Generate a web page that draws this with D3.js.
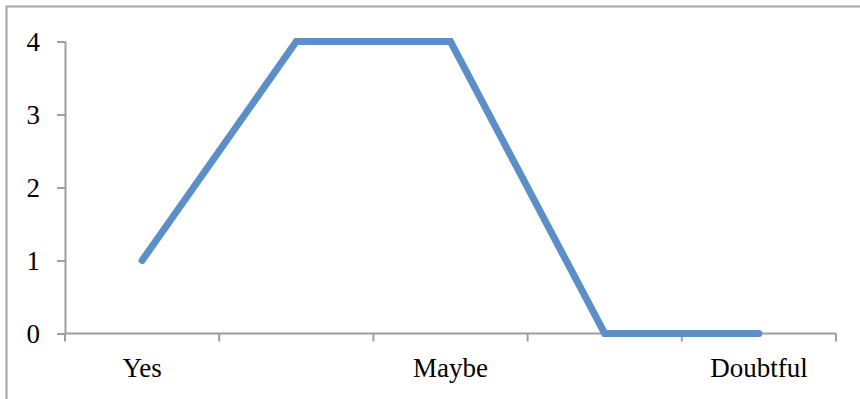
<!DOCTYPE html>
<html>
<head>
<meta charset="utf-8">
<script src="https://cdn.jsdelivr.net/npm/d3@7"></script>
<style>
  html, body { margin: 0; padding: 0; background: #fff; }
  svg { display: block; }
  .lbl { font-family: "Liberation Serif", "DejaVu Serif", serif; font-size: 27px; fill: #000; }
</style>
</head>
<body>
<svg id="chart" width="860" height="399"></svg>
<script>
// Responses per answer option
const categories = ["Yes", "No", "Maybe", "Unsure", "Doubtful"];
const values = [1, 4, 4, 0, 0];
// Only every other category name fits under the axis
const shownLabels = ["Yes", "Maybe", "Doubtful"];
const yTicks = [0, 1, 2, 3, 4];

const svg = d3.select("#chart");
const W = 860, H = 399;
const margin = { left: 65, right: 24, top: 41.5, bottom: 65.5 };

// chart frame
svg.append("rect")
  .attr("x", 6.5).attr("y", 6.5)
  .attr("width", W).attr("height", H)
  .attr("fill", "none").attr("stroke", "#a6a6a6").attr("stroke-width", 2);

const x = d3.scaleBand()
  .domain(categories)
  .range([margin.left, W - margin.right])
  .paddingInner(0).paddingOuter(0);

const y = d3.scaleLinear()
  .domain([0, 4])
  .range([H - margin.bottom, margin.top]);

const axisColor = "#9d9d9d";

// y axis
const yAxis = svg.append("g")
  .attr("transform", `translate(${margin.left},0)`)
  .call(d3.axisLeft(y).tickValues(yTicks).tickFormat(d3.format("d")).tickSize(8).tickPadding(17));
yAxis.select(".domain").attr("stroke", axisColor).attr("stroke-width", 2)
  .attr("d", `M0.5,${y(0)}V${y(4)}`);
yAxis.selectAll(".tick line").attr("stroke", axisColor).attr("stroke-width", 2);
yAxis.selectAll(".tick text").attr("class", "lbl").attr("dy", "0.34em");

// x axis: ticks on category boundaries
const xAxisG = svg.append("g")
  .attr("transform", `translate(0,${y(0)})`);
const bounds = categories.map(c => x(c)).concat([x(categories[categories.length - 1]) + x.bandwidth()]);
xAxisG.append("line")
  .attr("x1", margin.left).attr("x2", bounds[bounds.length - 1])
  .attr("y1", 0).attr("y2", 0)
  .attr("stroke", axisColor).attr("stroke-width", 2);
xAxisG.selectAll(".xt").data(bounds).enter().append("line")
  .attr("class", "xt")
  .attr("x1", d => d).attr("x2", d => d)
  .attr("y1", 0).attr("y2", 8)
  .attr("stroke", axisColor).attr("stroke-width", 2);
xAxisG.selectAll(".xl").data(shownLabels).enter().append("text")
  .attr("class", "lbl")
  .attr("x", d => x(d) + x.bandwidth() / 2)
  .attr("y", 43)
  .attr("text-anchor", "middle")
  .text(d => d);

// series line
const line = d3.line()
  .x((d, i) => x(categories[i]) + x.bandwidth() / 2)
  .y(d => y(d));

svg.append("path")
  .datum(values)
  .attr("d", line)
  .attr("fill", "none")
  .attr("stroke", "#5b8fc8")
  .attr("stroke-width", 7)
  .attr("stroke-linecap", "round")
  .attr("stroke-linejoin", "miter");
</script>
</body>
</html>
